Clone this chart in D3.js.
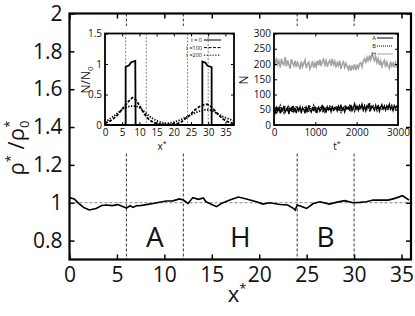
<!DOCTYPE html>
<html>
<head>
<meta charset="utf-8">
<script src="https://cdn.jsdelivr.net/npm/d3@7"></script>
<style>
  body { margin: 0; background: #fff; }
  text { font-family: "Open Sans", sans-serif; fill: #111; }
</style>
</head>
<body>
<script>
// main panel: density profile
var xTicks = [0, 5, 10, 15, 20, 25, 30, 35];
var yTicks = [0.8, 1, 1.2, 1.4, 1.6, 1.8, 2];
var regionBounds = [6, 12, 24, 30];
var regionNames = ["A", "H", "B"];
var regionSpans = [[6, 12], [12, 24], [24, 30]];

var densityX = [0, 0.5, 1, 1.5, 2.1, 2.8, 3.4, 3.9, 4.5, 5.1, 5.6, 6, 6.4, 6.7, 7.1, 7.4, 8.1, 8.8, 9.5, 10.2,
  10.9, 11.6, 12, 12.5, 13, 13.6, 14.1, 14.4, 15, 15.5, 16, 16.9, 17.8, 18.65, 19.7, 20.4, 21.1, 22.2, 23, 23.6,
  23.8, 24, 24.4, 25, 25.7, 26.4, 27.4, 28.1, 29, 29.9, 30.6, 31.3, 32, 32.9, 33.6, 34.3, 35.1, 35.8];
var densityY = [1.027, 1.02, 0.995, 0.975, 0.962, 0.97, 0.985, 0.988, 0.985, 0.99, 0.98, 0.972, 0.984, 0.975, 0.985, 0.984, 0.99, 0.996, 1.003, 1.009,
  1.01, 1.02, 1.014, 0.996, 1.027, 1.018, 1.025, 1.005, 0.991, 0.979, 0.996, 1.014, 1.03, 1.02, 1.005, 0.993, 1.0, 0.991, 0.988, 0.97,
  0.961, 0.988, 0.982, 0.97, 0.996, 1.005, 0.993, 1.002, 1.011, 1.0, 1.002, 1.005, 1.014, 1.014, 1.014, 1.023, 1.037, 1.014];

// inset 1: N/N0 profiles
var in1XTicks = [0, 5, 10, 15, 20, 25, 30, 35];
var in1YTicks = [0, 0.5, 1, 1.5];
var t0X = [0, 6, 6, 7, 7.6, 8.8, 8.9, 28.3, 28.3, 29.2, 29.8, 31, 31, 37.5];
var t0Y = [0, 0, 0.95, 0.98, 1.03, 1.05, 0, 0, 1.04, 1.02, 0.97, 0.95, 0, 0];
var t100X = [0, 1, 2.4, 3.4, 4.4, 5.4, 6.3, 7.2, 8, 8.8, 9.7, 10.6, 11.6, 12.8, 14.1, 15.5, 17, 19, 21, 22.2,
  23.3, 24.8, 26.2, 27.4, 28.6, 29.6, 30.5, 31.7, 32.9, 34.3, 35.8, 37.5];
var t100Y = [0.03, 0.05, 0.1, 0.15, 0.22, 0.29, 0.35, 0.41, 0.45, 0.42, 0.35, 0.26, 0.17, 0.09, 0.04, 0.02, 0.01, 0.01, 0.02, 0.05,
  0.1, 0.17, 0.25, 0.3, 0.33, 0.34, 0.32, 0.25, 0.17, 0.1, 0.05, 0.02];
var t200X = [0, 0.3, 2.4, 4, 5.4, 6.5, 7.7, 8.7, 9.7, 10.6, 11.6, 12.8, 14, 15.5, 17, 18.5, 20.3, 21.8, 23.3, 24.8,
  26.2, 27.7, 29.2, 30.4, 31.6, 32.9, 34.1, 35.5, 37, 37.5];
var t200Y = [0.05, 0.06, 0.14, 0.21, 0.27, 0.3, 0.31, 0.31, 0.3, 0.26, 0.21, 0.15, 0.1, 0.06, 0.03, 0.03, 0.05, 0.08, 0.12, 0.16,
  0.2, 0.23, 0.25, 0.25, 0.22, 0.18, 0.14, 0.11, 0.08, 0.07];
var in1Legend = ["t = 0", "t =100", "t =200"];

// inset 2: N(t) for A, B, H
var in2XTicks = [0, 1000, 2000, 3000];
var in2YTicks = [0, 50, 100, 150, 200, 250, 300];
var tStep = 30;
var nH = [214, 194, 220, 199, 210, 188, 217, 201, 197, 223,
  192, 212, 198, 185, 216, 203, 194, 211, 190, 205,
  196, 183, 209, 191, 202, 213, 187, 200, 206, 184,
  194, 209, 188, 203, 191, 211, 196, 214, 193, 208,
  216, 197, 210, 191, 205, 212, 194, 217, 199, 209,
  188, 204, 195, 211, 184, 200, 207, 189, 202, 192,
  182, 197, 178, 192, 184, 199, 180, 195, 186, 201,
  204, 191, 210, 217, 203, 221, 208, 228, 214, 231,
  222, 211, 226, 205, 217, 197, 210, 192, 205, 212,
  190, 206, 195, 186, 208, 193, 203, 188, 205, 192, 200];
var nA = [52, 40, 61, 45, 57, 38, 55, 48, 63, 42,
  50, 58, 36, 54, 47, 62, 44, 53, 39, 57,
  49, 60, 43, 55, 51, 38, 58, 46, 64, 50,
  42, 56, 48, 61, 40, 53, 59, 45, 52, 66,
  47, 55, 41, 60, 50, 57, 44, 63, 49, 54,
  58, 46, 62, 51, 67, 48, 56, 43, 61, 53,
  59, 50, 66, 47, 57, 70, 52, 61, 48, 64,
  55, 68, 51, 60, 46, 63, 57, 72, 50, 62,
  56, 48, 65, 53, 61, 45, 58, 67, 52, 60,
  49, 63, 55, 68, 51, 59, 47, 64, 56, 62, 58];
var nB = [48, 58, 42, 55, 50, 63, 45, 52, 40, 59,
  53, 44, 60, 49, 56, 41, 58, 47, 62, 51,
  45, 54, 39, 57, 48, 61, 46, 55, 43, 60,
  52, 47, 64, 50, 58, 44, 55, 49, 61, 46,
  57, 43, 59, 52, 48, 65, 51, 56, 45, 60,
  50, 62, 47, 55, 42, 58, 53, 64, 49, 57,
  52, 63, 48, 60, 55, 45, 66, 53, 59, 50,
  61, 54, 47, 65, 58, 52, 69, 49, 60, 56,
  63, 51, 58, 47, 66, 55, 61, 50, 57, 64,
  53, 59, 48, 62, 57, 65, 52, 60, 49, 58, 54];
var in2Legend = ["A", "B", "H"];

var svg = d3.select("body").append("svg")
    .attr("width", 415)
    .attr("height", 316);

// ---------- main panel ----------
var x = d3.scaleLinear().domain([0, 36]).range([69.5, 411]);
var y = d3.scaleLinear().domain([0.7, 2]).range([259.5, 13.5]);

function styleAxis(g, size) {
  g.select(".domain").remove();
  g.selectAll("line").attr("stroke", "#000").attr("stroke-width", 1.5);
  g.selectAll("text").style("font-size", size + "px").attr("fill", "#111");
}

svg.append("g")
    .attr("transform", "translate(0," + y(0.7) + ")")
    .call(d3.axisBottom(x).tickValues(xTicks).tickSize(-5).tickPadding(8))
    .call(styleAxis, 21);
svg.append("g")
    .attr("transform", "translate(0," + y(2) + ")")
    .call(d3.axisTop(x).tickValues(xTicks).tickSize(-5).tickFormat(""))
    .call(styleAxis, 21);
svg.append("g")
    .attr("transform", "translate(" + x(0) + ",0)")
    .call(d3.axisLeft(y).tickValues(yTicks).tickSize(-5).tickPadding(7).tickFormat(d => d))
    .call(styleAxis, 21);
svg.append("g")
    .attr("transform", "translate(" + x(36) + ",0)")
    .call(d3.axisRight(y).tickValues(yTicks).tickSize(-5).tickFormat(""))
    .call(styleAxis, 21);

// region boundaries
svg.selectAll(".bound")
  .data(regionBounds)
  .enter().append("line")
    .attr("x1", d => x(d)).attr("x2", d => x(d))
    .attr("y1", y(2)).attr("y2", y(0.7))
    .attr("stroke", "#000")
    .attr("stroke-width", 0.8)
    .attr("stroke-dasharray", "3,2");

svg.append("line")
    .attr("x1", x(0)).attr("x2", x(36))
    .attr("y1", y(1)).attr("y2", y(1))
    .attr("stroke", "#666")
    .attr("stroke-width", 0.8)
    .attr("stroke-dasharray", "3,2");

var densityLine = d3.line()
    .x((d, i) => x(densityX[i]))
    .y(d => y(d));

svg.append("path")
    .datum(densityY)
    .attr("fill", "none")
    .attr("stroke", "#000")
    .attr("stroke-width", 1.6)
    .attr("d", densityLine);

svg.selectAll(".region")
  .data(regionNames)
  .enter().append("text")
    .attr("x", (d, i) => x((regionSpans[i][0] + regionSpans[i][1]) / 2))
    .attr("y", 247)
    .attr("text-anchor", "middle")
    .style("font-size", "28px")
    .text(d => d);

svg.append("rect")
    .attr("x", x(0)).attr("y", y(2))
    .attr("width", x(36) - x(0)).attr("height", y(0.7) - y(2))
    .attr("fill", "none")
    .attr("stroke", "#000")
    .attr("stroke-width", 2.2);

// axis titles
var xt = svg.append("text")
    .attr("x", 237).attr("y", 302)
    .attr("text-anchor", "middle")
    .style("font-size", "22px");
xt.append("tspan").text("x");
xt.append("tspan").attr("dy", -9).style("font-size", "13px").text("*");

var yt = svg.append("text")
    .attr("transform", "translate(24,148) rotate(-90)")
    .attr("text-anchor", "middle")
    .style("font-size", "22px");
yt.append("tspan").text("ρ");
yt.append("tspan").attr("dy", -9).style("font-size", "13px").text("*");
yt.append("tspan").attr("dy", 9).text(" /ρ");
yt.append("tspan").attr("dy", 5).style("font-size", "13px").text("0");
yt.append("tspan").attr("dx", -7).attr("dy", -15).style("font-size", "13px").text("*");

// ---------- inset helper ----------
function insetAxes(g, sx, sy, xt, yt) {
  var x0 = sx.range()[0], x1 = sx.range()[1];
  var y0 = sy.range()[0], y1 = sy.range()[1];
  g.append("g")
      .attr("transform", "translate(0," + y0 + ")")
      .call(d3.axisBottom(sx).tickValues(xt).tickSize(-3).tickPadding(4).tickFormat(d => d))
      .call(styleAxis, 10);
  g.append("g")
      .attr("transform", "translate(0," + y1 + ")")
      .call(d3.axisTop(sx).tickValues(xt).tickSize(-3).tickFormat(""))
      .call(styleAxis, 10);
  g.append("g")
      .attr("transform", "translate(" + x0 + ",0)")
      .call(d3.axisLeft(sy).tickValues(yt).tickSize(-3).tickPadding(3).tickFormat(d => d))
      .call(styleAxis, 10);
  g.append("g")
      .attr("transform", "translate(" + x1 + ",0)")
      .call(d3.axisRight(sy).tickValues(yt).tickSize(-3).tickFormat(""))
      .call(styleAxis, 10);
  g.selectAll("line").attr("stroke-width", 1);
  g.append("rect")
      .attr("x", x0).attr("y", y1)
      .attr("width", x1 - x0).attr("height", y0 - y1)
      .attr("fill", "none")
      .attr("stroke", "#000")
      .attr("stroke-width", 1.8);
}

// ---------- inset 1 ----------
svg.append("rect").attr("x", 76).attr("y", 26).attr("width", 162).attr("height", 126).attr("fill", "#fff");

var ix1 = d3.scaleLinear().domain([0, 37.5]).range([105, 234]);
var iy1 = d3.scaleLinear().domain([0, 1.5]).range([125, 33.5]);
var in1 = svg.append("g");

in1.selectAll(".ib")
  .data(regionBounds)
  .enter().append("line")
    .attr("x1", d => ix1(d)).attr("x2", d => ix1(d))
    .attr("y1", iy1(1.5)).attr("y2", iy1(0))
    .attr("stroke", "#888")
    .attr("stroke-width", 0.9)
    .attr("stroke-dasharray", "2,1.5");

function profile(xs) {
  return d3.line().x((d, i) => ix1(xs[i])).y(d => iy1(d));
}
var in1Series = [
  {vals: t0Y, xs: t0X, dash: null},
  {vals: t100Y, xs: t100X, dash: "3,1.5"},
  {vals: t200Y, xs: t200X, dash: "1.3,1.5"}
];
in1Series.forEach(function(s) {
  in1.append("path")
      .datum(s.vals)
      .attr("fill", "none")
      .attr("stroke", "#000")
      .attr("stroke-width", 1.8)
      .attr("stroke-dasharray", s.dash)
      .attr("d", profile(s.xs));
});

in1Legend.forEach(function(label, i) {
  var ly = 40 + i * 7.6;
  in1.append("text")
      .attr("x", 202).attr("y", ly)
      .attr("dy", "0.35em")
      .attr("text-anchor", "end")
      .style("font-size", "5.5px")
      .style("white-space", "pre")
      .text(label);
  in1.append("line")
      .attr("x1", 204).attr("x2", 221)
      .attr("y1", ly).attr("y2", ly)
      .attr("stroke", "#000")
      .attr("stroke-width", 1.6)
      .attr("stroke-dasharray", in1Series[i].dash);
});

insetAxes(in1, ix1, iy1, in1XTicks, in1YTicks);

in1.append("text")
    .attr("transform", "translate(90,80) rotate(-90)")
    .attr("text-anchor", "middle")
    .style("font-size", "12px")
    .call(t => {
      t.append("tspan").text("N/N");
      t.append("tspan").attr("dy", 3).style("font-size", "8px").text("0");
    });
in1.append("text")
    .attr("x", 162).attr("y", 150)
    .attr("text-anchor", "middle")
    .style("font-size", "10px")
    .call(t => {
      t.append("tspan").text("x");
      t.append("tspan").attr("dy", -4).style("font-size", "7px").text("*");
    });

// ---------- inset 2 ----------
svg.append("rect").attr("x", 238).attr("y", 26).attr("width", 167).attr("height", 126).attr("fill", "#fff");

var ix2 = d3.scaleLinear().domain([0, 3000]).range([274, 398]);
var iy2 = d3.scaleLinear().domain([0, 300]).range([125, 33.5]);
var in2 = svg.append("g");

var countLine = d3.line()
    .x((d, i) => ix2(i * tStep))
    .y(d => iy2(d));

var in2Series = [
  {vals: nH, color: "#a3a3a3", dash: null, w: 1.6},
  {vals: nB, color: "#000", dash: "1,1", w: 1.3},
  {vals: nA, color: "#000", dash: null, w: 1.3}
];
in2Series.forEach(function(s) {
  in2.append("path")
      .datum(s.vals)
      .attr("fill", "none")
      .attr("stroke", s.color)
      .attr("stroke-width", s.w)
      .attr("stroke-dasharray", s.dash)
      .attr("d", countLine);
});

var in2Styles = [in2Series[2], in2Series[1], in2Series[0]];
in2Legend.forEach(function(label, i) {
  var ly = 38 + i * 8;
  in2.append("text")
      .attr("x", 376).attr("y", ly)
      .attr("dy", "0.35em")
      .attr("text-anchor", "end")
      .style("font-size", "5.8px")
      .text(label);
  in2.append("line")
      .attr("x1", 377).attr("x2", 393)
      .attr("y1", ly).attr("y2", ly)
      .attr("stroke", in2Styles[i].color)
      .attr("stroke-width", 1.2)
      .attr("stroke-dasharray", in2Styles[i].dash);
});

insetAxes(in2, ix2, iy2, in2XTicks, in2YTicks);

in2.append("text")
    .attr("transform", "translate(248,80) rotate(-90)")
    .attr("text-anchor", "middle")
    .style("font-size", "12px")
    .text("N");
in2.append("text")
    .attr("x", 337).attr("y", 150)
    .attr("text-anchor", "middle")
    .style("font-size", "10px")
    .call(t => {
      t.append("tspan").text("t");
      t.append("tspan").attr("dy", -4).style("font-size", "7px").text("*");
    });
</script>
</body>
</html>
